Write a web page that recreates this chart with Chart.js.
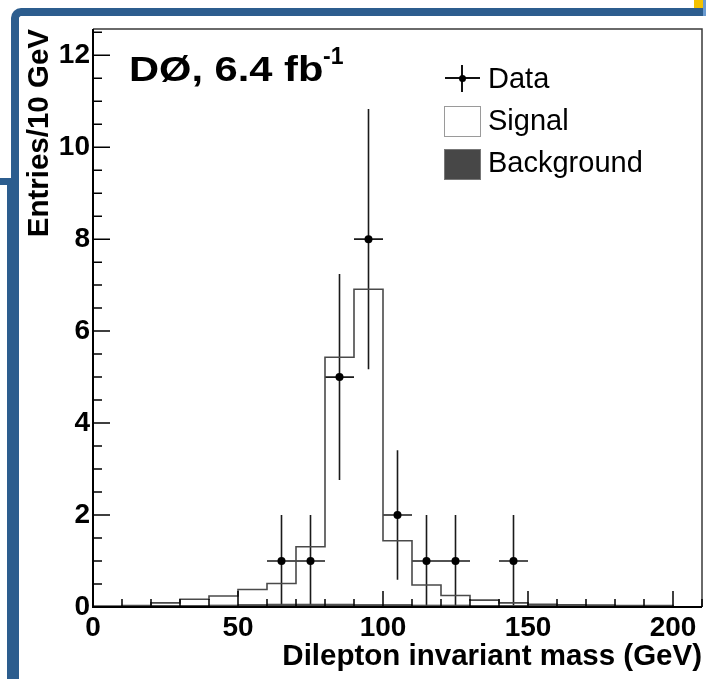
<!DOCTYPE html>
<html>
<head>
<meta charset="utf-8">
<script src="https://cdn.jsdelivr.net/npm/chart.js@4/dist/chart.umd.min.js"></script>
<style>
html,body{margin:0;padding:0;background:#fff;}
#wrap{position:relative;width:706px;height:679px;overflow:hidden;background:#fff;}
.deco{position:absolute;background:#2c5d8e;}
#c{position:absolute;left:0;top:0;width:706px;height:679px;}
.txt{position:absolute;font-family:"Liberation Sans",Arial,Helvetica,sans-serif;color:#000;white-space:nowrap;line-height:1;}
</style>
</head>
<body>
<div id="wrap">
  <!-- slide decoration -->
  <div style="position:absolute;left:11px;top:8px;width:760px;height:200px;border-top:8px solid #2c5d8e;border-left:8px solid #2c5d8e;border-top-left-radius:10px;box-sizing:border-box;"></div>
  <div class="deco" style="left:0;top:178px;width:19px;height:7px;"></div>
  <div class="deco" style="left:7px;top:178px;width:12px;height:501px;"></div>
  <div style="position:absolute;left:694px;top:0;width:9px;height:8px;background:#f4c200;"></div>
  <div style="position:absolute;left:703px;top:0;width:3px;height:16px;background:#6a9bd0;"></div>

  <canvas id="c" width="706" height="679"></canvas>

  <!-- experiment label -->
  <div class="txt" style="left:129px;top:51px;font-size:35px;font-weight:bold;transform:scaleX(1.19);transform-origin:0 0;">DØ, 6.4 fb</div>
  <div class="txt" style="left:323px;top:45px;font-size:23px;font-weight:bold;">-1</div>

  <!-- legend -->
  <div style="position:absolute;left:445px;top:77px;width:35px;height:1.6px;background:#111;"></div>
  <div style="position:absolute;left:461.2px;top:65px;width:1.6px;height:27px;background:#111;"></div>
  <div style="position:absolute;left:458.5px;top:74.5px;width:7px;height:7px;border-radius:50%;background:#000;"></div>
  <div class="txt" style="left:488px;top:64px;font-size:29px;">Data</div>
  <div style="position:absolute;left:444px;top:106px;width:37px;height:31px;box-sizing:border-box;border:1.5px solid #9a9a9a;background:#fff;"></div>
  <div class="txt" style="left:488px;top:106px;font-size:29px;">Signal</div>
  <div style="position:absolute;left:444px;top:149px;width:37px;height:31px;box-sizing:border-box;border:1.5px solid #777;background:#474747;"></div>
  <div class="txt" style="left:488px;top:148px;font-size:29px;">Background</div>
</div>
<script>
// ---- data (10 GeV bins, 0-200 GeV) ----
const binEdges = [0,10,20,30,40,50,60,70,80,90,100,110,120,130,140,150,160,170,180,190];
const binWidth = 10;
const backgroundValues = [0.01,0.01,0.03,0.03,0.04,0.05,0.06,0.06,0.06,0.05,0.05,0.04,0.04,0.03,0.03,0.03,0.03,0.02,0.02,0.02];
const signalValues     = [0.01,0.02,0.06,0.14,0.20,0.33,0.45,1.25,5.37,6.86,1.39,0.44,0.21,0.12,0.06,0.03,0.02,0.02,0.01,0.01];
const dataMass   = [65,75,85,95,105,115,125,145];
const dataCounts = [1,1,5,8,2,1,1,1];
const dataErrY   = [1.0,1.0,2.24,2.83,1.41,1.0,1.0,1.0];
const dataErrX   = [5,5,5,5,5,5,5,5];
const xTicks = [0,50,100,150,200];
const yTicks = [0,2,4,6,8,10,12];

function stepPoints(vals){
  const pts = [{x:binEdges[0], y:0}];
  for (let i=0;i<vals.length;i++) pts.push({x:binEdges[i], y:vals[i]});
  const end = binEdges[binEdges.length-1] + binWidth;
  pts.push({x:end, y:vals[vals.length-1]});
  pts.push({x:end, y:0});
  return pts;
}
const stackTop = signalValues.map((v,i)=>v + backgroundValues[i]);

const FONT = '"Liberation Sans", Arial, Helvetica, sans-serif';
Chart.defaults.font.family = FONT;
Chart.defaults.color = '#000';

const framePlugin = {
  id:'frame',
  beforeDatasetsDraw(chart){
    const ctx = chart.ctx, xs = chart.scales.x, ys = chart.scales.y;
    ctx.save();
    ctx.strokeStyle = '#1a1a1a';
    ctx.lineWidth = 1.6;
    for (let i=0;i<dataMass.length;i++){
      const px = xs.getPixelForValue(dataMass[i]);
      const py = ys.getPixelForValue(dataCounts[i]);
      const lo = ys.getPixelForValue(Math.max(0, dataCounts[i]-dataErrY[i]));
      const hi = ys.getPixelForValue(dataCounts[i]+dataErrY[i]);
      const l = xs.getPixelForValue(dataMass[i]-dataErrX[i]);
      const r = xs.getPixelForValue(dataMass[i]+dataErrX[i]);
      ctx.beginPath();
      ctx.moveTo(px, lo); ctx.lineTo(px, hi);
      ctx.moveTo(l, py); ctx.lineTo(r, py);
      ctx.stroke();
    }
    ctx.restore();
  },
  afterDatasetsDraw(chart){
    const ctx = chart.ctx, a = chart.chartArea, xs = chart.scales.x, ys = chart.scales.y;
    ctx.save();
    ctx.strokeStyle = '#3a3a3a';
    ctx.lineWidth = 1.5;
    ctx.beginPath();
    ctx.moveTo(a.left, a.top); ctx.lineTo(a.right, a.top); ctx.lineTo(a.right, a.bottom);
    ctx.stroke();
    ctx.strokeStyle = '#000';
    ctx.lineWidth = 2;
    ctx.beginPath();
    ctx.moveTo(a.left, a.top); ctx.lineTo(a.left, a.bottom); ctx.lineTo(a.right, a.bottom);
    ctx.stroke();
    ctx.lineWidth = 1.5;
    ctx.beginPath();
    for (let v=0; v<=ys.max+1e-9; v+=0.5){
      const p = ys.getPixelForValue(v);
      const major = Math.abs(v/2 - Math.round(v/2))<1e-6;
      ctx.moveTo(a.left, p); ctx.lineTo(a.left + (major?17:9), p);
    }
    for (let v=0; v<=xs.max+1e-9; v+=10){
      const p = xs.getPixelForValue(v);
      const major = v % 50 === 0;
      ctx.moveTo(p, a.bottom); ctx.lineTo(p, a.bottom - (major?16:8));
    }
    ctx.stroke();
    ctx.restore();
  }
};

new Chart(document.getElementById('c'), {
  type:'line',
  data:{
    datasets:[
      {
        label:'Data', type:'scatter', order:1,
        data: dataMass.map((m,i)=>({x:m, y:dataCounts[i]})),
        pointRadius:4, pointBackgroundColor:'#000', pointBorderColor:'#000', pointBorderWidth:0,
        showLine:false
      },
      {
        label:'Signal', order:3,
        data: stepPoints(stackTop),
        stepped:'before', borderColor:'#4a4a4a', borderWidth:1.6,
        pointRadius:0, fill:false
      },
      {
        label:'Background', order:2,
        data: stepPoints(backgroundValues),
        stepped:'before', borderColor:'#474747', borderWidth:1,
        backgroundColor:'#474747', pointRadius:0, fill:'origin'
      }
    ]
  },
  options:{
    responsive:false, animation:false, events:[],
    layout:{padding:{left:0, right:3, top:29, bottom:0}},
    plugins:{legend:{display:false}, tooltip:{enabled:false}},
    scales:{
      x:{
        type:'linear', min:0, max:210,
        afterFit(s){ s.height = 72; },
        grid:{display:false, drawTicks:false, tickLength:0},
        border:{display:false},
        afterBuildTicks(s){ s.ticks = xTicks.map(v=>({value:v})); },
        ticks:{font:{size:28, weight:'bold'}, padding:4, maxRotation:0, autoSkip:false, color:'#000'},
        title:{display:true, text:'Dilepton invariant mass (GeV)', align:'end',
               font:{size:29.5, weight:'bold'}, color:'#000', padding:{top:0,bottom:4.8}}
      },
      y:{
        type:'linear', min:0, max:12.57,
        afterFit(s){ s.width = 93; },
        grid:{display:false, drawTicks:false, tickLength:0},
        border:{display:false},
        afterBuildTicks(s){ s.ticks = yTicks.map(v=>({value:v})); },
        ticks:{font:{size:28, weight:'bold'}, padding:3, autoSkip:false, color:'#000'},
        title:{display:true, text:'Entries/10 GeV', align:'end',
               font:{size:29.5, weight:'bold'}, color:'#000', padding:{top:22.5,bottom:0}}
      }
    }
  },
  plugins:[framePlugin]
});
</script>
</body>
</html>
